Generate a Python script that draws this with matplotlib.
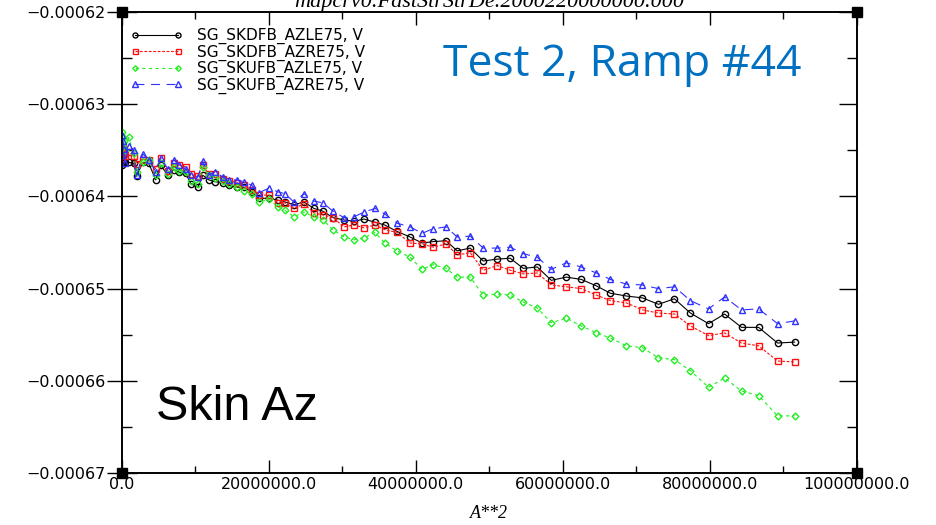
import numpy as np
import matplotlib
matplotlib.use("Agg")
from matplotlib import pyplot as plt
from matplotlib.ticker import MultipleLocator, FuncFormatter

# A**2 values (millions) shared by all four gauges
a_sq = [0.0, 0.07, 0.14, 0.27, 0.41,
        0.95, 1.63, 2.04, 2.86, 3.68, 4.63, 5.31, 6.27, 7.08, 7.77, 8.72, 9.40, 10.35, 11.04,
        11.85, 12.67, 13.76, 14.58, 15.67, 16.62, 17.71, 18.66,
        20.03, 21.25, 22.21, 23.43, 24.80, 26.16, 27.38, 28.75, 30.25, 31.61, 32.97, 34.47,
        35.80, 37.47,
        39.24, 40.87, 42.37, 44.14, 45.64, 47.41, 49.18, 51.09, 52.86, 54.63, 56.54, 58.45,
        60.49, 62.53, 64.58, 66.49, 68.66, 70.84, 73.02, 75.20, 77.38, 79.84, 82.02, 84.33,
        86.65, 89.24, 91.55]

# gauge outputs, in units of 1e-6 V
azle_dfb = [-636.0, -636.6, -635.5, -636.2, -636.3,
            -636.3, -636.4, -637.8, -636.3, -636.4, -638.2, -636.6, -637.7, -637.1, -637.35, -637.5, -638.6, -639.0, -637.7,
            -638.2, -638.4, -638.5, -638.8, -639.0, -639.0, -639.5, -640.2,
            -640.2, -640.4, -640.6, -640.9, -640.6, -641.3, -641.6, -642.3, -642.55, -642.7, -642.45, -642.8,
            -643.1, -643.8,
            -644.4, -645.05, -644.9, -644.8, -645.9, -645.6, -647.0, -646.8, -646.7, -647.8, -647.65, -649.1,
            -648.75, -649.0, -649.7, -650.5, -650.8, -651.0, -651.7, -651.1, -652.65, -653.8, -652.75, -654.2,
            -654.2, -655.9, -655.8]

azre_dfb = [-635.0, -635.8, -634.6, -635.4, -635.6,
            -635.2, -635.6, -636.5, -636.0, -636.0, -637.0, -635.8, -637.2, -636.4, -636.6, -636.8, -637.6, -637.8, -636.6,
            -637.6, -637.6, -638.1, -638.3, -638.5, -638.8, -639.3, -639.85,
            -639.85, -640.7, -640.7, -641.3, -640.8, -641.8, -642.0, -642.3, -643.3, -643.1, -643.4, -643.1,
            -643.6, -643.9,
            -645.05, -645.15, -645.5, -645.15, -646.35, -646.1, -648.0, -647.5, -648.0, -648.4, -648.3, -649.6,
            -649.8, -650.0, -650.7, -651.3, -651.55, -652.3, -652.65, -652.75, -654.05, -655.1, -654.8, -655.9,
            -656.2, -657.85, -657.95]

azle_ufb = [-633.0, -634.5, -633.6, -634.0, -635.0,
            -633.6, -635.3, -637.3, -636.3, -636.0, -637.7, -636.4, -637.6, -636.8, -637.2, -637.4, -638.3, -638.6, -636.8,
            -637.7, -638.0, -638.3, -638.6, -639.0, -639.4, -639.7, -640.6,
            -640.3, -641.15, -641.5, -642.2, -641.7, -642.2, -642.55, -643.6, -644.4, -644.7, -644.5, -643.9,
            -645.05, -645.9,
            -646.6, -647.9, -647.4, -647.8, -648.75, -648.75, -650.7, -650.6, -650.7, -651.45, -652.1, -653.7,
            -653.2, -654.05, -654.8, -655.35, -656.2, -656.4, -657.5, -657.7, -658.9, -660.7, -659.7, -661.1,
            -661.6, -663.8, -663.8]

azre_ufb = [-633.3, -635.5, -634.0, -634.8, -636.4,
            -634.5, -635.0, -637.7, -635.4, -636.0, -637.3, -635.8, -637.0, -636.0, -636.6, -637.0, -637.7, -637.9, -636.2,
            -637.7, -637.3, -637.9, -638.2, -638.2, -638.4, -638.8, -639.6,
            -639.1, -639.5, -639.7, -640.6, -639.7, -640.5, -640.7, -641.6, -642.3, -642.2, -641.7, -641.3,
            -641.9, -642.9,
            -643.3, -644.0, -643.5, -643.3, -644.4, -644.3, -645.6, -645.6, -645.5, -646.2, -646.6, -647.9,
            -647.2, -647.65, -648.3, -649.0, -649.5, -649.6, -650.0, -649.8, -651.3, -652.2, -650.9, -652.3,
            -652.2, -653.8, -653.5]

labels = ["SG_SKDFB_AZLE75, V", "SG_SKDFB_AZRE75, V", "SG_SKUFB_AZLE75, V", "SG_SKUFB_AZRE75, V"]

x = np.array(a_sq) * 1e6
series = [azle_dfb, azre_dfb, azle_ufb, azre_ufb]
colors = ["black", "#ff1010", "#22ee22", "#3030ff"]
markers = ["o", "s", "D", "^"]
marker_sizes = [4.5, 4.5, 3.5, 5]
dashes = [None, (2.5, 1.5), (3, 3), (8, 6)]

fig = plt.figure(figsize=(9.36, 5.25), dpi=100)
ax = fig.add_axes([0.130, 0.099, 0.7853, 0.878])

for y, col, mk, ms, ds, lab in zip(series, colors, markers, marker_sizes, dashes, labels):
    line, = ax.plot(x, np.array(y) * 1e-6, color=col, lw=0.8, marker=mk, ms=ms, mfc="none",
                    mec=col, mew=1.0, label=lab, zorder=3)
    if ds is not None:
        line.set_dashes(ds)

ax.set_xlim(0, 1e8)
ax.set_ylim(-0.00067, -0.00062)

ax.xaxis.set_major_locator(MultipleLocator(2e7))
ax.xaxis.set_minor_locator(MultipleLocator(1e7))
ax.yaxis.set_major_locator(MultipleLocator(1e-5))
ax.yaxis.set_minor_locator(MultipleLocator(5e-6))
ax.xaxis.set_major_formatter(FuncFormatter(lambda v, p: f"{v:.1f}"))
ax.yaxis.set_major_formatter(FuncFormatter(lambda v, p: f"{v:.5f}".replace("-", "\u2212")))

ax.tick_params(axis="x", which="major", direction="in", length=9.5, width=1, top=True,
               labelsize=11.5, pad=3)
ax.tick_params(axis="x", which="minor", direction="in", length=5, width=1, top=True)
ax.tick_params(axis="y", which="major", direction="inout", length=21, width=1, right=False,
               labelsize=11.5, pad=1)
ax.tick_params(axis="y", which="minor", direction="in", length=7, width=1, right=False)

# right side ticks point inward only
ax_r = ax.twinx()
ax_r.set_ylim(ax.get_ylim())
ax_r.yaxis.set_major_locator(MultipleLocator(1e-5))
ax_r.yaxis.set_minor_locator(MultipleLocator(5e-6))
ax_r.tick_params(axis="y", which="major", direction="in", length=13, width=1, labelright=False)
ax_r.tick_params(axis="y", which="minor", direction="in", length=7, width=1)
for a in (ax, ax_r):
    for sp in a.spines.values():
        sp.set_linewidth(1.2)

# black corner blocks
for cx, cy in [(0, -0.00067), (1e8, -0.00067), (0, -0.00062), (1e8, -0.00062)]:
    ax.plot(cx, cy, marker="s", ms=7, color="black", clip_on=False, zorder=5)

ax.legend(loc="upper left", bbox_to_anchor=(0.0, 0.985), frameon=False, fontsize=11,
          numpoints=2, handlelength=3.4, handletextpad=0.9, labelspacing=0.02,
          borderaxespad=0.3, borderpad=0.3, markerscale=0.8)

ax.set_xlabel("A**2", family="Liberation Serif", style="italic", fontsize=13, labelpad=9)

fig.text(0.523, 1 - 7 / 525, "mapcrv0.FastStrStrDe.2000220000000.000", family="Liberation Serif",
         style="italic", fontsize=16, ha="center", va="baseline")

fig.text(0.665, 0.876, "Test 2, Ramp #44", family="Open Sans", fontsize=32,
         color="#0070c0", ha="center", va="center")
fig.text(0.253, 0.224, "Skin Az", family="Liberation Sans", fontsize=35,
         color="black", ha="center", va="center")

fig.savefig("out.png", dpi=100)
